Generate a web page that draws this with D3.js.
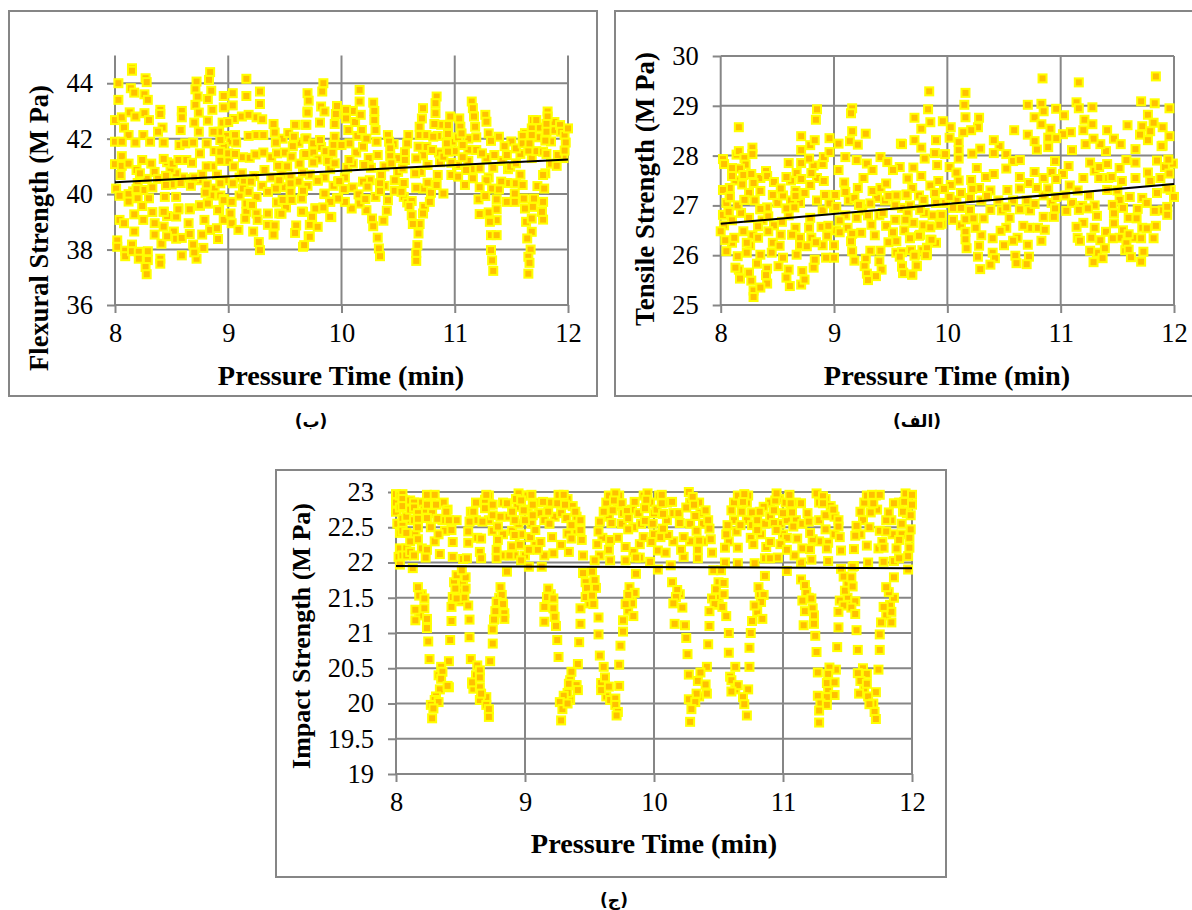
<!DOCTYPE html>
<meta charset="utf-8">
<script src="https://d3js.org/d3.v7.min.js"></script>
<style>
  body { margin: 0; background: #fff; }
  text { font-family: "Liberation Serif", serif; fill: #000; }
</style>
<div id="my_dataviz"></div>
<script>

// values: [pressure time, strength]
var flexuralPoints = [
[8.98,42.1],[9.02,41.9],[8.96,41.7],[9,41.2],[8.88,41.55],[8.86,41],[8.9,40.7],[8.97,40.5],[9.1,40.6],[9.14,40.45],[8.74,40.5],[8.68,40.55],[8.6,40.6],[8.54,40.75],[8.49,40.9],[8.46,41.15],[8.35,40.8],[8.28,40.55],[8.2,40.4],[8.16,40.1],[8.12,40],[8.25,40.15],[8.3,39.85],[8.38,40.55],[8.5,40.35],[8.58,40.4],[8.7,40.6],[8.77,40.7],[8.88,40.2],[8.85,39.95],[8.93,39.95],[9.1,39.95],[9.13,40.2],[9.25,39.9],[9.3,40.3],[9.23,40.65],[9.38,40.6],[9.42,40.2],[9.5,40.25],[9.47,40.7],[9.52,41],[9.5,41.5],[9.48,42],[9.53,42.2],[9.62,41.85],[9.62,40.45],[9.7,40.3],[9.72,40.7],[9.75,41.5],[9.82,41.7],[9.86,41.55],[9.9,40.9],[9.85,40.6],[9.93,40.3],[10.03,40.6],[10.05,40.95],[10.1,41.1],[10.13,41.5],[10.14,42.1],[10.12,42.6],[10.1,43],[10.22,42],[10.24,41.3],[10.26,40.95],[10.25,40.5],[10.3,39.9],[10.38,41],[10.38,40.3],[10.46,41.8],[10.5,41.3],[10.5,40.8],[10.55,40.4],[10.55,39.9],[10.58,39.7],[10.62,39.75],[10.72,40.2],[10.7,40.8],[10.72,41.4],[10.75,41.7],[10.86,41.5],[10.87,41.15],[10.85,42.1],[10.88,42.5],[10.98,41.9],[11,41.55],[11.02,41.05],[11.03,42.05],[11.12,42],[11.12,41.6],[11.12,41.2],[11.15,40.9],[11.28,41.3],[11.3,40.6],[11.28,40.5],[11.33,40.2],[11.42,41.2],[11.47,40.9],[11.46,40.4],[11.58,40.7],[11.68,41.3],[11.72,41.55],[11.73,42.05],[11.75,42.4],[11.85,41.9],[11.87,42.3],[11.88,42.6],[11.96,41.3],[11.85,41.1],[11.8,40.75],[11.62,42.2],[11.5,41.9],[11.58,41.45],
[8.03,44],[8.03,43.4],[8.15,44.54],[8.15,44.45],[8.14,43.82],[8.17,43.66],[8.27,44.18],[8.28,44.04],[8.26,43.6],[8.29,43.4],[8,42.67],[8.06,42.77],[8.13,42.95],[8.18,42.8],[8.26,42.92],[8.3,42.67],[8.08,42.4],[8.12,42.13],[8,41.89],[8.06,41.89],[8.18,41.86],[8.25,42.13],[8.31,41.89],[8.06,41.37],[8,41.08],[8.06,41.02],[8.12,41.1],[8.19,40.87],[8.05,40.69],[8.24,41.23],[8.22,40.75],[8.32,41.1],
[8.01,40.2],[8.04,39.94],[8.19,40.18],[8.2,39.85],[8.24,39.57],[8.17,39.27],[8.33,40.24],[8.33,39.35],[8.12,39.73],[8.04,39.07],[8.08,38.95],[8.25,39.07],[8.17,38.65],[8.02,38.33],[8.02,38.1],[8.09,37.96],[8.09,37.76],[8.15,38.18],[8.15,37.94],[8.21,37.92],[8.21,37.67],[8.29,37.94],[8.29,37.62],[8.27,37.37],[8.28,37.11],[8.4,37.67],[8.4,37.49],[8.59,37.79],[8.72,37.67],[8.7,37.9],[8.78,38.06],[8.69,38.18],[8.41,38.21],[8.35,38.95],[8.35,38.54],[8.43,38.83],[8.46,39.21],[8.43,39.37],[8.52,38.65],[8.54,38.39],[8.59,38.42],[8.46,38.48],[8.54,39.19],[8.56,39.49],[8.66,39.49],[8.65,38.95],[8.66,38.56],[8.77,38.54],[8.79,39.07],[8.75,39.58],[8.82,39.67],[8.84,38.71],[8.9,38.77],[8.91,38.38],[8.92,39.43],[8.96,39.07],[8.96,39.82],
[8.4,43.04],[8.4,42.89],[8.42,42.4],[8.38,42.25],[8.43,41.86],[8.43,41.27],[8.45,40.66],[8.45,40.33],[8.44,39.9],[8.43,39.36],[8.51,41.1],[8.56,41.23],[8.63,41.23],[8.68,41.13],[8.54,39.9],[8.56,39.45],[8.66,39.45],[8.67,40.3],[8.59,43],[8.59,42.77],[8.58,42.31],[8.57,41.77],[8.62,41.83],[8.69,41.86],[8.75,41.47],[8.7,42.58],[8.74,42.25],[8.71,43.22],[8.74,42.94],[8.72,44.06],[8.71,43.78],[8.73,43.52],[8.84,44.4],[8.83,44.12],[8.85,43.73],[8.82,43.43],[8.86,43.04],[8.82,42.65],[8.81,41.83],[8.81,41],[8.81,40.35],[8.8,40.05],[8.75,39.6],[8.82,39.66],[8.91,39.42],[8.93,40.39],[8.96,39.78],[9.02,39.3],[9.03,39.72],
[8.93,41.53],[8.93,41.2],[8.93,41.95],[8.92,42.25],[8.87,42.25],[8.95,42.58],[8.96,43.13],[8.96,43.54],[9.04,43.64],[9.04,43.2],[9.05,42.71],[9,42.6],[9.06,42.13],[9.07,41.86],[9,41.47],[9.06,41.45],[9.13,41.33],[9.19,41.31],[9.24,41.43],[9.31,41.5],[9.38,41.33],[9.05,41],[9.12,40.75],[9.04,40.39],[9.2,40.45],[9.18,40.08],[9.35,40.08],[9.49,39.78],[9.16,39.66],[9.2,39.64],[9.16,39.36],[9.25,39.3],[9.16,44.16],[9.16,43.54],[9.28,43.7],[9.28,43.25],[9.12,42.8],[9.18,42.86],[9.25,42.77],[9.3,42.7],[9.18,42.1],[9.25,42.13],[9.31,42.13],[9.4,42.53],[9.41,42.22],[9.42,41.86],[9.43,41.47],[9.32,40.87],[9.44,41.02],[9.45,40.5],[9.55,40.62],[9.55,40.39],[9.55,40.08],[9.65,39.84],[9.66,40.12],[9.51,39.52],[9.35,39.3],[9.45,39.3],[9.66,39.36],[9.59,42.5],[9.58,42.07],[9.57,41.73],[9.56,41.35],[9.63,41.1],[9.67,41.41],[9.68,42.5],[9.7,42.98],[9.7,43.64],[9.68,42],[9.66,40.77],
[9.03,38.95],[9.09,38.71],[9.21,39.61],[9.15,39.11],[9.26,39.07],[9.22,38.65],[9.27,38.27],[9.28,37.98],[9.35,38.89],[9.41,38.87],[9.4,38.54],[9.43,39.7],[9.47,39.29],[9.48,39.79],[9.56,39.79],[9.65,39.37],[9.6,38.87],[9.59,38.6],[9.72,38.89],[9.71,38.48],[9.66,38.1],[9.74,39.19],[9.77,39.49],[9.84,39.49],[9.85,40],[9.91,39.17],[9.9,39.73],[9.96,39.85],[9.79,40.5],[9.97,40.46],
[9.84,44],[9.83,43.7],[9.82,43.16],[9.85,42.98],[9.71,43.37],[9.7,42.94],[9.81,42.58],[9.69,42.5],[9.69,42.01],[9.75,41.83],[9.81,41.95],[9.68,41.45],[9.79,41.25],[9.75,41.14],[9.88,41.2],[9.96,43.18],[9.95,42.89],[9.94,42.53],[9.94,42.07],[9.93,41.77],[9.92,41.49],[9.94,41.11],[10.04,43.04],[10.04,42.73],[10.06,42.31],[10.07,41.83],[10.07,41.23],[10,41.77],[10.16,43.76],[10.16,43.34],[10.17,42.86],[10.18,42.31],[10.19,41.71],[10.2,41.05],[10.28,43.3],[10.29,43],[10.29,42.67],[10.3,42.31],[10.31,41.89],[10.32,41.41],[10.35,40.69],[10.34,40.39],[10.34,40.11],[10.41,42.13],[10.42,41.89],[10.43,41.65],[10.43,41.37],[10.44,41.11],[10.41,39.78],[10.4,39.4],[10.37,39.04],[10.27,39.12],[10.28,38.84],[10.32,38.43],[10.33,38.04],[10.34,37.76],[10.22,39.42],[10.16,39.66],[10.09,39.48],[10.03,39.72],[9.97,39.84],[10.02,40.18],[9.98,40.47],[10.1,40.24],[10.15,39.99],[10.19,40.45],[10.23,40.27],[10.21,39.82],[9.9,39.18],[9.9,39.72],[9.85,40.02],[9.79,40.48],[9.77,39.48],[9.84,39.52],[9.74,39.18],[9.79,38.82],[9.72,38.46],[9.67,38.16],
[10.47,40.5],[10.47,40.12],[10.53,40.08],[10.6,39.57],[10.66,40.23],[10.73,39.54],[10.78,39.72],[10.79,40.05],[10.9,40.02],[10.84,40.33],[10.76,40.41],[10.65,40.75],[10.72,39.3],[10.62,39.24],[10.69,38.92],[10.63,38.92],[10.68,38.58],[10.67,38.16],[10.66,37.88],[10.66,37.59],[10.59,42.13],[10.58,41.83],[10.56,41.51],[10.56,41.23],[10.54,40.93],[10.72,43.1],[10.71,42.73],[10.69,42.43],[10.69,42.13],[10.68,41.71],[10.66,41.29],[10.75,42.13],[10.81,42.07],[10.84,43.52],[10.83,43.28],[10.83,42.92],[10.82,42.53],[10.8,41.59],[10.76,41.05],[10.85,40.69],[10.9,41.35],[10.94,42.17],[10.96,42.8],[10.94,42.49],[11.04,42.73],[11.05,42.43],[11.06,42.19],[10.93,41.83],[11.07,41.77],[10.97,41.13],[10.97,40.69],[11.03,40.63],[10.94,41.53],[11.07,41.33],[11.1,40.87],[11.16,40.57],[11.09,40.33],
[11.15,43.34],[11.16,43.1],[11.17,42.8],[11.18,42.43],[11.19,42.05],[11.19,41.59],[11.24,41.47],[11.22,40.93],[11.22,40.25],[11.21,39.81],[11.22,39.28],[11.27,42.86],[11.28,42.61],[11.3,42.19],[11.32,41.92],[11.35,41.41],[11.34,40.95],[11.27,39.93],[11.3,39.34],[11.37,39.45],[11.37,39.81],[11.37,39.06],[11.31,39],[11.32,38.52],[11.37,38.52],[11.32,37.98],[11.33,37.61],[11.34,37.23],[11.39,42.07],[11.44,41.73],[11.46,41.41],[11.49,40.99],[11.41,40.45],[11.39,40.17],[11.46,39.72],[11.53,39.72],[11.53,40.02],[11.54,40.39],[11.6,40.33],[11.61,39.84],[11.62,39.48],[11.63,39],[11.68,39.12],[11.68,38.64],[11.64,38.4],[11.67,38],[11.65,37.74],[11.66,37.52],[11.65,37.13],[11.69,39.54],[11.7,39.84],[11.73,40.29],[11.79,40.2],[11.78,39.72],[11.78,39.08],[11.77,39.36],[11.78,40.69],[11.54,41.65],[11.54,41.11],[11.6,42.1],[11.6,41.83],[11.65,41.57],[11.66,41.83],[11.69,42.67],[11.68,42.37],[11.68,42.13],[11.72,42.67],[11.82,42.98],[11.82,42.8],[11.81,42.53],[11.81,42.25],[11.8,41.93],[11.78,41.53],[11.81,41.45],[11.9,41.02],[11.91,41.41],[11.93,42.49],[11.94,42.25],[11.97,42.13],[11.98,41.86],[11.97,41.57],[12,42.37]
];

var tensilePoints = [
[8.03,26.6],[8.1,26.7],[8.18,26.85],[8.25,26.75],[8.28,26.4],[8.26,26.2],[8.37,26.7],[8.47,26.6],[8.1,26.25],[8.23,26.25],[8.1,27.75],[8.13,27.5],[8.05,27.05],[8.15,27],[8.25,27.25],[8.3,27.1],[8.35,27.55],[8.5,27.05],[8.55,27.2],[8.62,27.5],[8.62,27.1],[8.7,27.05],[8.85,27.1],[8.85,27.55],[8.82,27.8],[8.67,27.65],[8.9,26.9],[8.78,26.55],[8.6,26.8],[8.7,26.35],[8.7,26.2],[8.8,26.35],[8.9,26.2],[9,26.2],[9,25.95],[8.93,25.95],[9.02,26.5],[9.1,26.8],[9.12,26.55],[9.13,27.1],[9.18,27.15],[9.25,26.9],[9.3,26.8],[9.4,26.8],[9.38,27.15],[9.45,27.1],[9.55,27.2],[9.6,26.95],[9.65,26.85],[9.7,26.65],[9.62,26.5],[9.55,26.05],[9.68,26.1],[9.78,26.1],[9.9,26.25],[9.87,26.8],[9.8,26.85],[9.75,27.2],[9.85,27.4],[9.9,27.05],[9.98,27.05],[10.08,27.1],[10.12,27.25],[10.1,27.5],[10.12,26.95],[10.05,26.95],[10.2,27.15],[10.3,27.1],[10.28,27.35],[10.38,27.3],[10.45,27.1],[10.48,26.9],[10.58,27.1],[10.7,27.1],[10.73,26.9],[10.72,27.45],[10.85,27.55],[10.85,27.2],[10.92,27.05],[11.08,27.4],[11.1,27.05],[11.15,27.3],[11.25,27.2],[11.3,27],[11.3,27.7],[11.42,27.55],[11.5,27.3],[11.55,26.95],[11.6,26.75],[11.55,26.5],[11.52,26.35],[11.57,26.1],[11.65,26.35],[11.72,26.55],[11.72,27.15],[11.85,27.25],[11.9,26.9],[11.88,27.55],[11.85,27.9],[11.9,28.2],[11.3,26.55],[11.2,26.65],[11.15,26.35],[11.35,26.3],[11.32,26.05],[10.5,26.2],[10.52,26.55],[10.55,26.75],[10.62,26.35],[10.72,26.55],[10.8,26.55],[10.3,26.4],[10.25,26.55],[10.12,26.6],
[8.16,28.57],[8.85,28.93],[8.84,28.72],[9.16,28.95],[9.15,28.85],[8.02,27.93],[8.03,27.83],[8.14,28.02],[8.16,28.09],[8.21,27.95],[8.28,28.16],[8.28,28.03],[8.22,27.82],[8.17,27.74],[8.1,27.59],[8.2,27.61],[8.27,27.63],[8.29,27.45],[8.19,27.42],[8.08,27.35],[8.02,27.31],[8.08,27.16],[8.21,27.11],[8.35,27.29],[8.4,27.69],[8.41,27.59],[8.47,27.47],[8.53,27.34],[8.46,27.21],[8.58,27.57],[8.6,27.85],[8.66,27.29],[8.74,27.25],[8.71,27.53],[8.79,27.41],[8.71,27.85],[8.71,28.11],[8.71,28.39],[8.79,28.21],[8.83,28.31],[8.78,27.94],[8.8,27.65],[8.91,27.49],[8.9,27.83],[8.91,27.97],[8.96,28.35],[8.96,28.07],[9.04,28.24],[9.1,27.97],[9.04,27.71],[9.09,27.46],[8.92,27.21],[9.01,27.21],[9.1,27.27],[9.14,28.29],[9.16,28.49],[9.28,28.44],[9.21,28.22],[9.2,27.91],[9.29,27.84],[9.26,27.55],[9.21,27.35],[9.34,27.71],[9.34,27.29],[9.41,27.97],[9.47,27.87],[9.41,27.35],[9.46,27.44],[9.48,27.19],[9.59,28.24],[9.58,27.77],[9.52,27.71],[9.65,27.54],[9.64,27.21],[9.23,27.02],[9.32,27.04],[9.54,27],[8.58,26.94],[8.65,26.96],[8.41,26.96],[8.35,26.92],[8.07,26.87],[8.02,26.81],[9,26.95],[8.96,27.04],
[8.07,26.87],[8,26.48],[8.04,26.3],[8.12,26.35],[8.05,26.08],[8.15,25.98],[8.23,26.05],[8.2,26.48],[8.33,26.58],[8.33,26.35],[8.42,26.48],[8.35,26.01],[8.45,26.05],[8.46,26.25],[8.52,26.19],[8.53,26.41],[8.32,25.83],[8.41,25.73],[8.16,25.71],[8.13,25.75],[8.17,25.53],[8.27,25.49],[8.25,25.65],[8.4,25.6],[8.41,25.43],[8.29,25.29],[8.29,25.16],[8.35,25.35],[8.6,25.71],[8.58,25.55],[8.61,25.38],[8.71,25.41],[8.72,25.68],[8.74,25.51],[8.82,25.75],[8.83,25.91],[8.67,26.01],[8.55,25.95],[8.51,25.78],[8.76,26.18],[8.84,26.26],[8.66,26.55],[8.63,26.41],[8.54,26.67],[8.42,26.78],[8.79,26.75],[8.89,26.57],[8.95,26.59],[8.94,26.39],[9.05,26.7],[9.05,26.46],[9.16,26.43],[9.24,26.45],[9.15,26.28],[9.16,26.08],[9.18,25.89],[9.32,26.09],[9.41,26.09],[9.28,25.93],[9.4,25.88],[9.27,25.78],[9.42,25.71],[9.29,25.63],[9.3,25.5],[9.37,25.58],[9.2,26.75],[9.33,26.61],[9.36,26.4],[9.46,26.59],[9.52,26.46],[9.48,26.26],[9.55,26.28],[9.67,26.36],[9.76,26.41],[9.85,26.31],[9.84,26.58],[9.79,26.6],[9.95,26.63],[9.95,26.81],[9.6,26.06],[9.72,26.01],[9.82,26.15],[9.82,26.01],[9.6,25.78],[9.73,25.78],[9.69,25.61],[9.61,25.65],[9.54,26.71],[9.43,26.85],[9.22,27.01],[9.02,26.97],[8.92,27.21],[8.66,27.19],[8.21,27.11],[8.08,27.17],[8.35,26.93],
[10.84,29.55],[11.16,29.47],[11.84,29.59],[9.84,29.29],[10.16,29.26],[10.15,29.02],[9.83,28.93],[9.71,28.76],[10.16,28.77],[10.28,28.76],[9.96,28.69],[9.85,28.67],[9.77,28.54],[10.03,28.57],[10.71,29.02],[10.83,29.04],[10.85,28.89],[10.96,28.94],[11.03,28.81],[10.77,28.77],[11.14,29.07],[11.16,28.95],[11.28,28.97],[11.21,28.72],[11.28,28.63],[11.71,29.09],[11.83,29.05],[11.96,28.95],[11.77,28.82],[11.82,28.66],[11.9,28.57],[11.59,28.61],[10.59,28.51],[10.83,28.63],[10.91,28.54],[10.27,28.57],[10.21,28.51],[10.14,28.47],[11.41,28.51],[11.47,28.34],[11.53,28.23],[11.72,28.59],[11.7,28.42],[11.79,28.49],[11.96,28.39],[11.89,28.19],[11.77,28.31],[11.66,28.13],[11.4,28.09],[11.35,28.23],[11.29,28.34],[11.22,28.23],[11.2,28.51],[11.09,28.47],[11.02,28.43],[10.96,28.35],[10.71,28.42],[10.77,28.29],[10.89,28.36],[10.79,28.12],[10.89,28.17],[11.1,28.11],[10.46,28.19],[10.41,28.31],[10.29,28.14],[10.22,28.04],[10.1,28.27],[10.02,28.36],[9.9,28.31],[9.71,28.31],[9.77,28.16],[9.6,28.23],[9.89,28.05],[9.98,28.03],[10.1,28.11],[9.8,27.94],[9.91,27.81],[10.02,27.77],[10.1,27.94],[10.41,28.05],[10.52,28.03],[10.58,27.89],[10.64,27.91],[10.95,27.89],[11.07,27.79],[11.26,27.86],[11.34,27.77],[11.41,27.83],[11.52,27.75],[11.58,27.91],[11.66,27.86],[11.92,27.77],[11.99,27.84],[11.95,27.92],[9.7,27.76],[10.26,27.75],[10.52,27.74],[10.77,27.67],[10.92,27.67],[11.02,27.63],[11.77,27.66],[11.96,27.64],[9.77,27.59],[10.08,27.66],[10.34,27.57],[10.41,27.63],[10.21,27.51],[10.64,27.57],[10.96,27.53],[11.2,27.55],[11.34,27.55],[11.45,27.57],[11.54,27.49],[11.66,27.55],[11.79,27.49],[9.65,27.54],[9.92,27.49],[10.03,27.41],[10.22,27.33],[9.97,27.33],[9.69,27.35],[10.35,27.19],[10.53,27.31],[10.64,27.34],[10.79,27.35],[10.89,27.34],[9.89,27.25],[10.02,27.17],[9.64,27.22],[10.96,27.17],[11.04,27.2],[11.41,27.31],[11.52,27.11],[11.61,27.17],[11.97,27.31],[12,27.17],[11.94,27.34],[9.79,27.11],[9.67,27],[10.77,27.03],[11.19,26.99],[11.46,27.01],[11.76,27.05],[11.94,26.97],[9.76,26.91],[10.2,26.91],[10.38,26.91],[10.52,26.96],[10.64,26.92],[10.95,26.94],[11.05,26.89],[11.16,26.91],[11.24,26.94],[11.68,26.93],[11.83,26.89],[11.94,26.81],[9.95,26.81],[10.05,26.71],[10.16,26.72],[10.23,26.74],[10.32,26.74],[10.85,26.77],[10.94,26.77],[11.32,26.79],[11.47,26.84],[11.67,26.74],[9.63,26.71],[9.93,26.61],[9.85,26.56],[10.67,26.59],[10.86,26.51],[11.14,26.57],[11.47,26.64],[11.6,26.42],[11.84,26.59],[11.76,26.54],[11.4,26.47],[10.16,26.47],[10.47,26.49],[9.75,26.39],[9.67,26.34],[9.86,26.31],[10.16,26.32],[10.4,26.34],[10.58,26.29],[10.83,26.29],[11.17,26.29],[11.27,26.35],[11.71,26.34],[11.82,26.34],[11.46,26.34],[11.58,26.24],[9.82,26.14],[10.17,26.14],[10.28,26.19],[10.71,26.21],[11.26,26.09],[11.39,26.14],[11.6,26.11],[11.73,26.07],[9.81,26],[9.71,25.99],[10.4,26.05],[10.6,25.99],[10.72,25.97],[10.27,25.97],[10.42,25.94],[10.61,25.84],[10.7,25.82],[10.29,25.72],[10.38,25.81],[11.29,25.86],[11.37,25.94],[11.71,25.87],[11.62,25.96],[9.73,25.79],[9.6,25.77],[9.69,25.61],[9.61,25.64],[9.58,25.97]
];

var impactPoints = [
[8.07,22.88],[8.1,22.6],[8.15,22.4],[8.2,22.2],[8.18,22.85],[8.22,22.75],[8.27,22.95],[8.28,22.7],[8.27,22.5],[8.3,22.3],[8.37,22.85],[8.4,22.75],[8.36,22.6],[8.38,22.45],[8.47,22.6],[8.52,22.05],[8.58,22.72],[8.62,22.85],[8.62,22.6],[8.63,22.35],[8.72,22.95],[8.73,22.82],[8.72,22.6],[8.75,22.45],[8.83,22.85],[8.83,22.4],[8.87,22.65],[8.84,22.1],[8.9,22.45],[8.92,22.1],[8.95,22.55],[8.97,22.4],[8.98,22.95],[9.02,22.95],[9.02,22.75],[9,22.1],[9.05,22.55],[9.08,22.25],[9.1,22.85],[9.11,22.7],[9.15,22.6],[9.15,22.1],[9.2,22.85],[9.23,22.65],[9.28,22.9],[9.28,22.7],[9.28,22.25],[9.33,22.9],[9.37,22.8],[9.4,22.65],[9.4,22.45],[9.58,22.1],[9.6,22.35],[9.63,22.85],[9.65,22.95],[9.65,22.65],[9.72,22.8],[9.72,22.35],[9.73,22.95],[9.75,22.55],[9.83,22.75],[9.84,22.5],[9.84,22.15],[9.88,22.7],[9.9,22.55],[9.92,22.95],[9.97,22.85],[10,22.7],[10,22.4],[10.04,22.95],[10.02,22.75],[10.1,22.85],[10.1,22.6],[10.15,22.7],[10.15,22.3],[10.28,22.85],[10.28,22.55],[10.28,22.3],[10.35,22.85],[10.36,22.7],[10.38,22.55],[10.38,22.3],[10.58,22.3],[10.62,22.85],[10.62,22.6],[10.65,22.95],[10.72,22.85],[10.72,22.6],[10.73,22.95],[10.75,22.35],[10.83,22.4],[10.86,22.55],[10.9,22.85],[10.9,22.65],[10.97,22.9],[10.98,22.55],[11,22.4],[11.02,22.85],[11.03,22.6],[11.03,22.35],[11.1,22.85],[11.1,22.6],[11.15,22.55],[11.15,22.2],[11.28,22.85],[11.28,22.6],[11.28,22.3],[11.33,22.9],[11.37,22.8],[11.4,22.65],[11.4,22.4],[11.6,22.4],[11.63,22.85],[11.65,22.95],[11.62,22.6],[11.72,22.95],[11.73,22.75],[11.75,22.45],[11.74,22.2],[11.84,22.6],[11.85,22.4],[11.9,22.85],[11.92,22.4],[11.96,22.95],[11.96,22.7],[11.98,22.35],
[8.2,21.55],[8.18,21.25],[8.49,21.6],[8.5,21.45],[8.45,21.72],[8.52,21.7],[8.8,21.5],[8.8,21.3],[9.2,21.55],[9.47,21.72],[9.5,21.55],[9.5,21.42],[9.82,21.5],[9.8,21.32],[10.2,21.55],[10.5,21.72],[10.5,21.5],[10.5,21.4],[10.82,21.55],[10.8,21.3],[11.2,21.5],[11.5,21.7],[11.5,21.5],[11.5,21.4],[11.83,21.4],[11.8,21.25],[8.33,20.4],[8.62,20.4],[9.35,20.05],[9.63,20.1],[10.35,20.1],[10.63,20.2],[11.35,20.2],[11.63,20.2],
[8,22.97],[8,22.85],[8,22.72],[8.01,22.55],[8.02,22.08],[8.03,22.95],[8.03,22.78],[8.03,22.42],[8.03,22.2],[8.03,21.97],[8.05,22.97],[8.05,22.9],[8.05,22.8],[8.05,22.62],[8.05,22.52],[8.05,22.45],[8.05,22.1],[8.08,22.65],[8.08,22.42],[8.08,22.2],[8.08,22.1],[8.11,22.88],[8.11,22.75],[8.11,22.3],[8.11,22.15],[8.13,21.92],[8.14,22.85],[8.14,22.78],[8.14,22.6],[8.14,22.1],[8.17,22.7],[8.17,22.62],[8.17,22.5],[8.17,22.33],
[8.24,22.96],[8.24,22.82],[8.24,22.63],[8.24,22.18],[8.23,22.07],[8.3,22.96],[8.31,22.82],[8.32,22.62],[8.33,22.4],[8.34,22.12],[8.39,22.72],[8.41,22.6],[8.43,22.46],[8.44,22.29],[8.44,22.08],[8.55,22.06],[8.56,22.28],[8.56,22.44],[8.57,22.58],[8.6,22.72],[8.67,22.58],[8.66,22.34],[8.65,22.15],[8.66,22.06],[8.69,22.89],[8.7,22.96],[8.69,22.77],[8.75,22.82],[8.75,22.67],[8.81,22.65],[8.79,22.51],[8.79,22.32],[8.78,22.18],[8.78,22.06],[8.86,22.84],[8.86,21.87],[8.9,22.23],[8.88,22.1],[8.92,22.6],[8.92,22.39],[8.95,22.98],[8.94,22.79],[8.97,22.03],[8.96,22.25],[8.99,22.74],[9,22.6],[8.9,22.72],[8.93,22.9],[8.97,22.88],
[8.17,21.65],[8.18,21.53],[8.15,21.33],[8.15,21.18],[8.22,21.49],[8.22,21.35],[8.24,21.2],[8.24,21.07],[8.25,20.88],[8.26,20.63],[8.47,21.82],[8.46,21.63],[8.44,21.51],[8.43,21.37],[8.43,21.17],[8.42,20.9],[8.41,20.6],[8.54,21.79],[8.54,21.63],[8.53,21.5],[8.56,21.39],[8.57,21.19],[8.57,20.94],[8.58,20.63],[8.51,21.89],[8.47,21.49],[8.81,21.65],[8.82,21.54],[8.78,21.44],[8.83,21.41],[8.77,21.31],[8.84,21.28],[8.84,21.2],[8.76,21.19],[8.75,21.05],[8.75,20.85],[8.73,20.6],
[8.35,20.52],[8.36,20.45],[8.35,20.35],[8.41,20.23],[8.34,20.2],[8.4,20.25],[8.31,20.1],[8.3,20.05],[8.33,20.02],[8.27,19.98],[8.29,19.93],[8.28,19.79],[8.59,20.28],[8.6,20.21],[8.65,20.23],[8.7,20.09],[8.65,20.05],[8.7,19.98],[8.72,19.92],[8.72,19.81],[8.66,20.14],[8.63,20.54],[8.65,20.47],[8.59,20.3],[8.65,20.37],
[9.03,21.94],[9.03,22.18],[9.04,22.36],[9.06,22.67],[9.06,22.82],[9.05,22.96],[9.08,22.46],[9.1,22.18],[9.13,21.94],[9.12,22.29],[9.14,22.86],[9.18,22.72],[9.19,22.55],[9.21,22.36],[9.22,22.13],[9.25,22.84],[9.26,22.96],[9.3,22.96],[9.31,22.82],[9.32,22.63],[9.33,22.41],[9.34,22.15],[9.36,22.53],[9.36,22.34],[9.39,22.72],[9.43,22.6],[9.43,22.46],[9.44,22.32],[9.45,22.1],[9.54,22.03],[9.56,22.26],[9.57,22.44],[9.58,22.58],[9.61,22.72],
[9.18,21.63],[9.17,21.51],[9.15,21.37],[9.15,21.16],[9.22,21.49],[9.22,21.35],[9.23,21.23],[9.24,21.1],[9.25,20.9],[9.26,20.66],[9.45,21.85],[9.48,21.64],[9.47,21.51],[9.43,21.35],[9.43,21.13],[9.42,20.87],[9.41,20.56],[9.54,21.75],[9.55,21.64],[9.52,21.53],[9.53,21.41],[9.57,21.22],[9.57,20.98],[9.58,20.68],[9.52,21.87],[9.36,20.45],[9.35,20.33],[9.39,20.26],
[9.34,20.28],[9.4,20.26],[9.41,20.19],[9.33,20.15],[9.3,20.11],[9.27,20.02],[9.29,19.92],[9.28,19.76],[9.33,20],[9.59,20.29],[9.59,20.19],[9.65,20.24],[9.66,20.05],[9.7,20.07],[9.7,19.98],[9.72,19.88],[9.71,19.83],[9.73,20.25],[9.61,20.52],[9.62,20.37],
[9.7,22.98],[9.69,22.88],[9.75,22.84],[9.68,22.74],[9.76,22.7],[9.67,22.56],[9.8,22.47],[9.85,22.86],[9.79,22.73],[9.8,22.63],[9.66,22.32],[9.65,22.18],[9.66,22.03],[9.78,22.22],[9.78,22.03],[9.95,22.98],[9.94,22.89],[9.93,22.77],[9.93,22.59],[9.89,22.26],[9.89,22.07],[9.86,22.07],[9.97,22.01],[10.03,21.9],[9.86,21.84],[10.06,22.96],[10.06,22.84],[10.07,22.69],[9.92,22.36],[9.98,22.29],[10.03,22.17],[10.09,22.14],[10.05,22.36],[10.11,22.39],[10.07,22.48],[9.99,22.55],[10.13,21.96],[9.81,21.65],[9.85,21.57],[9.8,21.54],[9.83,21.42],[9.78,21.41],[9.84,21.24],[9.76,21.18],[9.76,21.02],[9.74,20.82],[9.73,20.55],
[10.14,22.86],[10.19,22.7],[10.2,22.56],[10.23,22.36],[10.23,22.08],[10.21,22.18],[10.25,22.78],[10.27,23],[10.3,22.93],[10.31,22.82],[10.32,22.66],[10.33,22.45],[10.35,22.31],[10.34,22.18],[10.34,22.06],[10.4,22.74],[10.42,22.6],[10.43,22.48],[10.44,22.33],[10.45,22.14],[10.55,22],[10.55,22.21],[10.56,22.4],[10.57,22.53],[10.6,22.74],[10.68,22.72],[10.64,22.44],[10.67,22.53],[10.65,22.21],[10.65,21.99],[10.69,22.86],[10.7,22.97],[10.76,22.71],[10.76,22.53],[10.8,22.46],[10.77,22.26],[10.78,21.99],[10.85,22.79],[10.82,22.72],[10.8,22.6],[10.87,22.22],[10.86,22.06],[10.9,22.06],[10.9,22.29],[10.93,22.56],[10.93,22.74],[10.94,22.88],[10.95,22.98],[10.96,22.07],[10.98,22.26],[10.95,22.46],[11,22.7],[11.03,21.88],
[10.14,21.72],[10.18,21.61],[10.17,21.51],[10.15,21.42],[10.16,21.13],[10.22,21.36],[10.24,21.11],[10.25,20.93],[10.26,20.7],[10.27,20.41],[10.46,21.89],[10.48,21.62],[10.45,21.49],[10.47,21.41],[10.43,21.31],[10.43,21.1],[10.42,20.84],[10.41,20.52],[10.52,21.89],[10.54,21.71],[10.54,21.55],[10.53,21.37],[10.56,21.24],[10.58,21],[10.58,20.72],[10.63,20.52],[10.81,21.65],[10.85,21.54],[10.83,21.44],[10.78,21.39],[10.84,21.2],[10.76,21.17],[10.75,21],[10.74,20.79],[10.74,20.52],[10.86,21.81],
[10.36,20.44],[10.34,20.32],[10.4,20.27],[10.41,20.14],[10.33,20.14],[10.27,20.06],[10.32,20.02],[10.29,19.92],[10.28,19.74],[10.59,20.38],[10.6,20.33],[10.65,20.26],[10.6,20.17],[10.73,20.2],[10.69,20.09],[10.7,19.99],[10.72,19.83],
[11.14,22],[11.14,21.76],[11.22,22.04],[11.21,22.19],[11.23,22.33],[11.21,22.42],[11.2,22.58],[11.19,22.7],[11.14,22.84],[11.09,22.1],[11.11,22.34],[11.08,22.51],[11.07,22.71],[11.05,22.96],[11.06,22.84],[11.03,22.18],[11.26,22.98],[11.31,22.94],[11.31,22.84],[11.33,22.67],[11.33,22.47],[11.35,22.28],[11.34,22.2],[11.35,22.02],[11.39,22.75],[11.43,22.6],[11.43,22.51],[11.44,22.36],[11.45,22.17],[11.55,21.95],[11.55,22.19],[11.56,22.38],[11.57,22.52],[11.6,22.72],[11.67,22.5],[11.68,22.71],[11.65,22.24],[11.66,22],[11.69,22.96],[11.7,22.84],[11.75,22.96],[11.77,22.29],[11.78,22.21],[11.78,22.01],[11.8,22.44],[11.8,22.6],[11.82,22.71],[11.86,22.84],[11.88,22.2],[11.86,22.02],[11.9,22.06],[11.9,22.32],[11.92,22.55],[11.93,22.72],[11.94,22.86],[11.95,22.98],[12,22.96],[12,22.82],[11.99,22.67],[11.99,22.47],[11.98,22.21],[11.97,22.09],[11.97,21.9],
[11.18,21.58],[11.17,21.68],[11.22,21.49],[11.15,21.46],[11.17,21.31],[11.23,21.35],[11.24,21.25],[11.16,21.11],[11.24,21.13],[11.25,20.96],[11.26,20.73],[11.27,20.44],[11.45,21.91],[11.47,21.8],[11.48,21.6],[11.44,21.46],[11.47,21.39],[11.43,21.3],[11.43,21.08],[11.42,20.8],[11.41,20.48],[11.54,21.94],[11.53,21.79],[11.54,21.66],[11.56,21.45],[11.53,21.36],[11.56,21.27],[11.57,21.04],[11.58,20.76],[11.74,20.48],[11.75,20.76],[11.75,20.98],[11.76,21.15],[11.84,21.15],[11.84,21.3],[11.78,21.37],[11.86,21.5],[11.82,21.58],[11.8,21.65],[11.86,21.79],
[11.36,20.51],[11.35,20.42],[11.34,20.29],[11.4,20.3],[11.4,20.12],[11.27,20.11],[11.34,20.09],[11.29,20],[11.34,19.98],[11.28,19.9],[11.28,19.73],[11.62,20.5],[11.58,20.43],[11.65,20.42],[11.6,20.32],[11.65,20.28],[11.59,20.14],[11.72,20.16],[11.66,20.1],[11.7,20],[11.67,19.99],[11.71,19.88],[11.72,19.78]
];

// trend lines, ends
var trendTimes = [8, 12];
var flexuralTrend = [40.43, 41.25];
var tensileTrend = [26.63, 27.43];
var impactTrend = [21.95, 21.92];

var timeTicks = [8, 9, 10, 11, 12];
var flexuralTicks = [36, 38, 40, 42, 44];
var tensileTicks = [25, 26, 27, 28, 29, 30];
var impactTicks = [19, 19.5, 20, 20.5, 21, 21.5, 22, 22.5, 23];

var xLabel = "Pressure Time (min)";

var svg = d3.select("#my_dataviz")
  .append("svg")
    .attr("width", 1192)
    .attr("height", 910)
    .style("display", "block");

function drawPanel(p) {
  var x = d3.scaleLinear().domain([8, 12]).range([p.left, p.right]);
  var y = d3.scaleLinear().domain(p.yDomain).range([p.bottom, p.top]);
  var g = svg.append("g");

  // outer frame
  g.append("rect")
    .attr("x", p.frame[0]).attr("y", p.frame[1])
    .attr("width", p.frame[2]).attr("height", p.frame[3])
    .attr("fill", "#fff").attr("stroke", "#868686").attr("stroke-width", 2);

  // axes carry the outside tick marks and the labels
  var yAxis = g.append("g")
    .attr("transform", "translate(" + p.left + ",0)")
    .call(d3.axisLeft(y).tickValues(p.yTicks).tickSize(8).tickPadding(14).tickFormat(d3.format("~g")));
  var xAxis = g.append("g")
    .attr("transform", "translate(0," + p.bottom + ")")
    .call(d3.axisBottom(x).tickValues(timeTicks).tickSize(8).tickPadding(10).tickFormat(d3.format("d")));
  [xAxis, yAxis].forEach(function (a) {
    a.select(".domain").remove();
    a.selectAll("line").attr("stroke", "#868686").attr("stroke-width", 2);
    a.selectAll("text")
      .style("font-family", '"Liberation Serif", serif')
      .style("font-size", "26.5px")
      .attr("fill", "#000");
  });

  // gridlines
  g.selectAll(".hgrid").data(p.yTicks).enter().append("line")
    .attr("x1", p.left).attr("x2", p.right)
    .attr("y1", function (d) { return y(d); }).attr("y2", function (d) { return y(d); })
    .attr("stroke", "#868686").attr("stroke-width", 2);
  g.selectAll(".vgrid").data(timeTicks).enter().append("line")
    .attr("y1", p.top).attr("y2", p.bottom)
    .attr("x1", function (d) { return x(d); }).attr("x2", function (d) { return x(d); })
    .attr("stroke", "#868686").attr("stroke-width", 2);

  // points
  g.selectAll(".pt").data(p.points).enter().append("rect")
    .attr("x", function (d) { return x(d[0]) - 4; })
    .attr("y", function (d) { return y(d[1]) - 4; })
    .attr("width", 8).attr("height", 8)
    .attr("fill", "#FFC000").attr("stroke", "#FFFF00").attr("stroke-width", 2);

  // trend line
  var line = d3.line()
    .x(function (d) { return x(d); })
    .y(function (d, i) { return y(p.trend[i]); });
  g.append("path")
    .attr("d", line(trendTimes))
    .attr("fill", "none").attr("stroke", "#000").attr("stroke-width", 2);

  // axis titles
  g.append("text")
    .attr("x", p.titleX).attr("y", p.titleY)
    .attr("text-anchor", "middle")
    .style("font-size", "28.3px").style("font-weight", "bold")
    .text(xLabel);
  g.append("text")
    .attr("transform", "translate(" + p.yTitleX + "," + p.yTitleY + ") rotate(-90)")
    .attr("text-anchor", "middle")
    .style("font-size", p.yTitleSize).style("font-weight", "bold")
    .text(p.yLabel);

  // panel caption
  g.append("text")
    .attr("x", p.capX).attr("y", p.capY)
    .attr("text-anchor", "middle")
    .style("font-family", '"DejaVu Sans", sans-serif')
    .style("font-size", "17px").style("font-weight", "bold")
    .text(p.caption);
}

drawPanel({
  frame: [9, 11, 588, 385], left: 115, right: 568, top: 55.5, bottom: 305,
  yDomain: [36, 45], yTicks: flexuralTicks, points: flexuralPoints, trend: flexuralTrend,
  yLabel: "Flexural Strength (M Pa)", yTitleX: 48, yTitleY: 228, yTitleSize: "26.5px",
  titleX: 341, titleY: 385, capX: 311, capY: 427, caption: "(ب)"
});
drawPanel({
  frame: [615, 11, 590, 385], left: 720.7, right: 1174, top: 56, bottom: 305,
  yDomain: [25, 30], yTicks: tensileTicks, points: tensilePoints, trend: tensileTrend,
  yLabel: "Tensile Strength (M Pa)", yTitleX: 654, yTitleY: 189, yTitleSize: "27px",
  titleX: 947, titleY: 385, capX: 917, capY: 427, caption: "(الف)"
});
drawPanel({
  frame: [276, 470, 670, 407], left: 396, right: 912, top: 492, bottom: 774,
  yDomain: [19, 23], yTicks: impactTicks, points: impactPoints, trend: impactTrend,
  yLabel: "Impact Strength (M Pa)", yTitleX: 310, yTitleY: 636, yTitleSize: "26px",
  titleX: 654, titleY: 853, capX: 614, capY: 906, caption: "(ج)"
});

</script>
